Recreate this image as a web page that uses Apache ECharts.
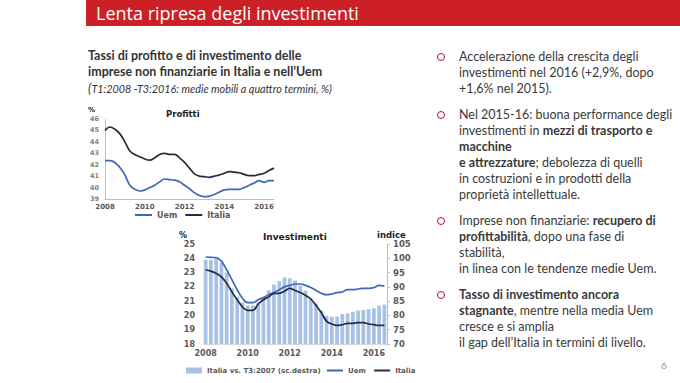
<!DOCTYPE html>
<html><head><meta charset="utf-8">
<script src="https://cdn.jsdelivr.net/npm/echarts@6/dist/echarts.min.js"></script>
<style>
html,body{margin:0;padding:0;width:680px;height:383px;background:#fff;overflow:hidden;font-family:Lato,"Open Sans",sans-serif;}
#band{position:absolute;left:86px;top:0;width:594px;height:26px;background:#cc1f26;}
#band span{position:absolute;left:10px;top:1px;color:#fff;font-size:18px;font-family:"Open Sans",Lato,sans-serif;white-space:nowrap;}
#sub{position:absolute;left:88px;top:48px;width:320px;color:#333;font-size:12.5px;line-height:16px;font-weight:bold;white-space:nowrap;}
#sub .it{font-weight:normal;font-style:italic;font-size:10.8px;}
#sub .it b{font-size:13px;font-weight:normal;}
#right{position:absolute;left:459px;top:49px;width:221px;color:#3a3a3a;font-size:12.5px;line-height:16px;white-space:nowrap;}
#right p{margin:0 0 10px 0;position:relative;}
#right p:before{content:"";position:absolute;left:-22px;top:4px;width:6px;height:6px;border:1.6px solid #b4102c;border-radius:50%;}
#pg{position:absolute;left:661px;top:359px;color:#999;font-size:10px;}
#chart{position:absolute;left:0;top:0;width:680px;height:383px;}
</style></head><body>
<div id="chart"></div>
<div id="band"><span>Lenta ripresa degli investimenti</span></div>
<div id="sub">Tassi di profitto e di investimento delle<br>imprese non finanziarie in Italia e nell’Uem<br><span class="it"><b>(</b>T1:2008 -T3:2016: medie mobili a quattro termini, %)</span></div>
<div id="right">
<p>Accelerazione della crescita degli<br>investimenti nel 2016 (+2,9%, dopo<br>+1,6% nel 2015).</p>
<p>Nel 2015-16: buona performance degli<br>investimenti in <b>mezzi di trasporto e</b><br><b>macchine</b><br><b>e attrezzature</b>; debolezza di quelli<br>in costruzioni e in prodotti della<br>proprietà intellettuale.</p>
<p>Imprese non finanziarie: <b>recupero di</b><br><b>profittabilità</b>, dopo una fase di<br>stabilità,<br>in linea con le tendenze medie Uem.</p>
<p><b>Tasso di investimento ancora</b><br><b>stagnante</b>, mentre nella media Uem<br>cresce e si amplia<br>il gap dell’Italia in termini di livello.</p>
</div>
<div id="pg">6</div>
<script>
// ---- data ----
const years = [2008,2009,2010,2011,2012,2013,2014,2015,2016];
const tickYears = ['2008','2010','2012','2014','2016'];
const quarters = [];
years.forEach(y=>{for(let q=1;q<=4;q++){ if(y===2016 && q>3) break; quarters.push(y+'T'+q);} });

const profUem    = [42.35,42.35,42.2,41.75,41.1,40.2,39.85,39.7,39.8,40.0,40.2,40.5,40.75,40.7,40.65,40.5,40.2,39.9,39.55,39.3,39.2,39.25,39.4,39.6,39.8,39.85,39.85,39.85,40.0,40.2,40.4,40.6,40.45,40.6,40.6];
const profItalia = [45.0,45.3,45.1,44.7,44.0,43.2,42.9,42.7,42.5,42.4,42.6,42.9,43.0,42.9,42.9,42.6,42.2,41.7,41.2,41.0,40.95,40.9,41.0,41.1,41.25,41.4,41.35,41.3,41.15,41.05,41.05,41.15,41.25,41.5,41.7];
const invUem     = [24.09,24.06,24.04,23.8,23.2,22.5,21.8,21.2,20.9,20.9,21.1,21.25,21.45,21.6,21.8,22.0,22.1,22.2,22.2,22.1,21.95,21.75,21.55,21.45,21.5,21.6,21.65,21.8,21.8,21.85,21.9,21.9,21.95,22.1,22.05];
const invItalia  = [23.2,23.1,22.95,22.7,22.25,21.65,21.1,20.6,20.35,20.35,20.8,21.1,21.3,21.55,21.55,21.7,21.9,21.75,21.6,21.4,21.15,20.7,20.2,19.6,19.4,19.3,19.35,19.45,19.45,19.5,19.5,19.4,19.35,19.3,19.3];
const invIndex   = [99.4,99.4,99.8,98.5,95.0,89.5,86.5,84.5,83.5,83.5,84.5,86.5,88.8,90.8,92.0,93.3,93.0,92.2,90.4,88.7,86.0,84.2,81.7,79.9,79.6,79.6,80.5,80.7,81.3,81.7,81.9,82.2,82.5,83.4,83.8];

const cUem = '#3f68b4', cIt = '#262c3c', cBar = '#a7c2e5', cTxt = '#595959';
const yearLabel = (v)=> v.endsWith('T1') && tickYears.includes(v.slice(0,4)) ? v.slice(0,4) : '';
const showIdx = (i,v)=> v.endsWith('T1') && tickYears.includes(v.slice(0,4));
const axFont = {fontFamily:'DejaVu Sans',fontWeight:'bold',color:cTxt};
const legFont = {fontFamily:'DejaVu Sans',fontSize:7,fontWeight:'bold',color:cTxt};
const tFont = (s)=>({fontFamily:'DejaVu Sans',fontSize:s,fontWeight:'bold',color:'#222'});

const chart = echarts.init(document.getElementById('chart'), null, {renderer:'svg'});
chart.setOption({
  animation:false,
  title:[
    {text:'Profitti', left:166, top:109, padding:0, textStyle:tFont(8.5)},
    {text:'%', left:88, top:106, padding:0, textStyle:tFont(7)},
    {text:'Investimenti', left:263, top:232, padding:0, textStyle:tFont(9)},
    {text:'%', left:179, top:231, padding:0, textStyle:tFont(8)},
    {text:'indice', left:377, top:230, padding:0, textStyle:tFont(8.5)}
  ],
  legend:[
    {data:[{name:'Uem'},{name:'Italia'}], left:130, top:206, itemWidth:17, itemHeight:2, itemGap:8,
     icon:'rect', textStyle:{...legFont, fontSize:8}},
    {data:[{name:'Italia vs. T3:2007 (sc.destra)'}], left:181, top:362, itemWidth:16, itemHeight:6, icon:'rect',
     textStyle:legFont},
    {data:[{name:'Uem '},{name:'Italia '}], left:322, top:362, itemWidth:16, itemHeight:2, itemGap:6, icon:'rect',
     textStyle:legFont}
  ],
  grid:[
    {left:105, top:119, width:169, height:80},
    {left:203, top:244, width:184, height:100}
  ],
  xAxis:[
    {gridIndex:0, type:'category', data:quarters, boundaryGap:false,
     axisLine:{lineStyle:{color:'#bfbfbf'}}, axisTick:{show:false},
     axisLabel:{interval:showIdx, formatter:yearLabel, fontSize:7, margin:4, ...axFont}},
    {gridIndex:1, type:'category', data:quarters, boundaryGap:true,
     axisLine:{lineStyle:{color:'#d9d9d9'}}, axisTick:{show:false},
     axisLabel:{interval:showIdx, formatter:yearLabel, fontSize:8, margin:5, ...axFont}}
  ],
  yAxis:[
    {gridIndex:0, type:'value', min:39, max:46, interval:1, splitLine:{show:false},
     axisLine:{show:true,lineStyle:{color:'#bfbfbf'}}, axisTick:{show:false},
     axisLabel:{fontSize:6.5, margin:6, ...axFont, color:'#7f7f7f'}},
    {gridIndex:1, type:'value', min:18, max:25, interval:1, splitLine:{show:false},
     axisLine:{show:false}, axisTick:{show:false},
     axisLabel:{fontSize:8, margin:8, ...axFont}},
    {gridIndex:1, type:'value', position:'right', min:70, max:105, interval:5, splitLine:{show:false},
     axisLine:{show:true,lineStyle:{color:'#bfbfbf'}}, axisTick:{show:true,length:3,lineStyle:{color:'#bfbfbf'}},
     axisLabel:{fontSize:8.5, margin:6, ...axFont}}
  ],
  series:[
    {name:'Uem', type:'line', xAxisIndex:0, yAxisIndex:0, data:profUem, smooth:0.4, showSymbol:false,
     lineStyle:{color:cUem,width:1.7}, itemStyle:{color:cUem}},
    {name:'Italia', type:'line', xAxisIndex:0, yAxisIndex:0, data:profItalia, smooth:0.4, showSymbol:false,
     lineStyle:{color:cIt,width:1.7}, itemStyle:{color:cIt}},
    {name:'Italia vs. T3:2007 (sc.destra)', type:'bar', xAxisIndex:1, yAxisIndex:2, data:invIndex, barCategoryGap:'28%',
     itemStyle:{color:cBar}},
    {name:'Uem ', type:'line', xAxisIndex:1, yAxisIndex:1, data:invUem, smooth:0.4, showSymbol:false,
     lineStyle:{color:cUem,width:1.7}, itemStyle:{color:cUem}},
    {name:'Italia ', type:'line', xAxisIndex:1, yAxisIndex:1, data:invItalia, smooth:0.4, showSymbol:false,
     lineStyle:{color:cIt,width:1.7}, itemStyle:{color:cIt}}
  ]
});
</script>
</body></html>
